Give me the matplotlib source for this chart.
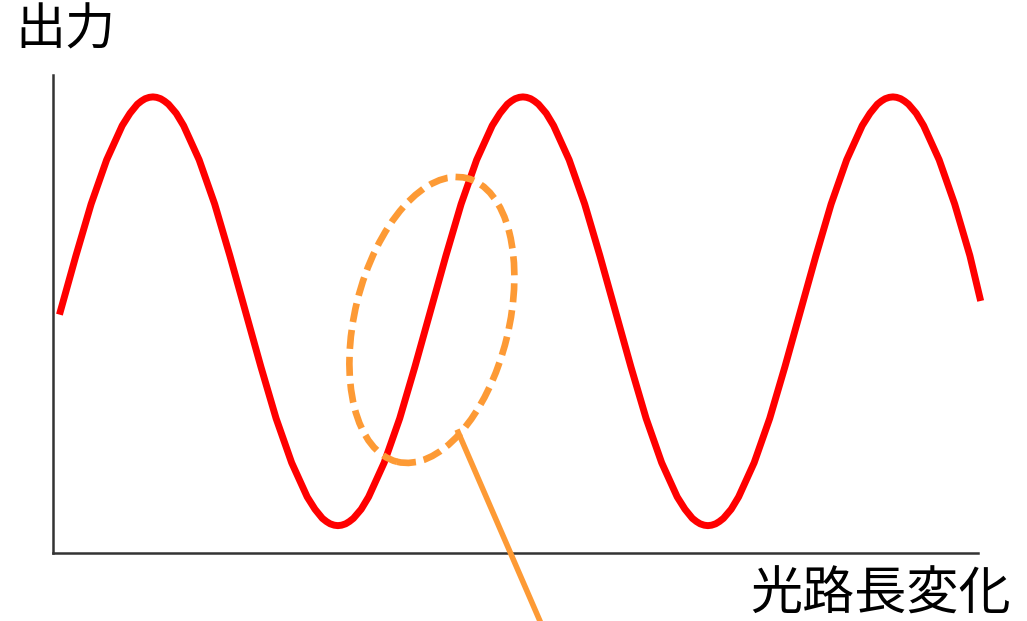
# encoding='utf-8'
import matplotlib.pyplot as plt
from matplotlib.patches import Ellipse
from matplotlib import transforms

# 光路長の変化（任意単位、1周期 = 10）。山・谷の付近は細かく読み取り
path_change = [0.20, 0.62, 1.03, 1.45, 1.87, 2.08, 2.28, 2.39, 2.49, 2.60,
               2.70, 2.80, 2.91, 3.01, 3.12, 3.33, 3.53, 3.95, 4.37, 4.78,
               5.20, 5.62, 6.03, 6.45, 6.87, 7.08, 7.28, 7.39, 7.49, 7.60,
               7.70, 7.80, 7.91, 8.01, 8.12, 8.33, 8.53, 8.95, 9.37, 9.78,
               10.20, 10.62, 11.03, 11.45, 11.87, 12.08, 12.28, 12.39, 12.49, 12.60,
               12.70, 12.80, 12.91, 13.01, 13.12, 13.33, 13.53, 13.95, 14.37, 14.78,
               15.20, 15.62, 16.03, 16.45, 16.87, 17.08, 17.28, 17.39, 17.49, 17.60,
               17.70, 17.80, 17.91, 18.01, 18.12, 18.33, 18.53, 18.95, 19.37, 19.78,
               20.20, 20.62, 21.03, 21.45, 21.87, 22.08, 22.28, 22.39, 22.49, 22.60,
               22.70, 22.80, 22.91, 23.01, 23.12, 23.33, 23.53, 23.95, 24.37, 24.78,
               25.05]
# 出力（任意単位）
output = [53, 65.2, 76.5, 86.2, 93.7, 96.4, 98.4, 99.1, 99.6, 99.9,
          100, 99.9, 99.6, 99.1, 98.4, 96.4, 93.7, 86.2, 76.5, 65.2,
          53, 40.8, 29.5, 19.8, 12.3, 9.6, 7.6, 6.9, 6.4, 6.1,
          6.0, 6.1, 6.4, 6.9, 7.6, 9.6, 12.3, 19.8, 29.5, 40.8,
          53, 65.2, 76.5, 86.2, 93.7, 96.4, 98.4, 99.1, 99.6, 99.9,
          100, 99.9, 99.6, 99.1, 98.4, 96.4, 93.7, 86.2, 76.5, 65.2,
          53, 40.8, 29.5, 19.8, 12.3, 9.6, 7.6, 6.9, 6.4, 6.1,
          6.0, 6.1, 6.4, 6.9, 7.6, 9.6, 12.3, 19.8, 29.5, 40.8,
          53, 65.2, 76.5, 86.2, 93.7, 96.4, 98.4, 99.1, 99.6, 99.9,
          100, 99.9, 99.6, 99.1, 98.4, 96.4, 93.7, 86.2, 76.5, 65.2,
          56]

# 注目範囲（楕円）と引き出し線
focus_center = (10.24, 51.1)
leader_x = [10.95, 13.16]
leader_y = [26.5, -14.9]

x_label = '光路長変化'
y_label = '出力'


def draw():
    plt.rcParams['font.family'] = ['Noto Sans CJK JP', 'DejaVu Sans']
    fig = plt.figure(figsize=(10.27, 6.21), dpi=100)
    ax = fig.add_axes([0.0516, 0.1095, 0.9007, 0.7697])

    # 干渉信号
    ax.plot(path_change, output, color='#FF0000', linewidth=5,
            solid_joinstyle='round', clip_on=False, zorder=3)

    # 楕円（インチ単位で描いて中心だけデータ座標に合わせる）
    tr = fig.dpi_scale_trans + transforms.ScaledTranslation(
        focus_center[0], focus_center[1], ax.transData)
    ell = Ellipse((0, 0), 1.54, 2.92, angle=-13.8, transform=tr,
                  fill=False, edgecolor='#FD9A35', linewidth=4.8,
                  linestyle=(0, (2.85, 1.2)), clip_on=False, zorder=4)
    ax.add_patch(ell)
    ax.plot(leader_x, leader_y, color='#FD9A35', linewidth=4,
            clip_on=False, zorder=4)

    ax.set_xlim(0, 25)
    ax.set_ylim(0, 104.8)
    ax.set_xticks([])
    ax.set_yticks([])
    ax.spines['top'].set_visible(False)
    ax.spines['right'].set_visible(False)
    for s in ['left', 'bottom']:
        ax.spines[s].set_color('#333333')
        ax.spines[s].set_linewidth(1.8)

    fig.text(0.0633, 0.951, y_label, ha='center', va='center', fontsize=36)
    fig.text(0.857, 0.0427, x_label, ha='center', va='center', fontsize=37.5)

    plt.savefig('out.png', dpi=100)


if __name__ == '__main__':
    draw()
